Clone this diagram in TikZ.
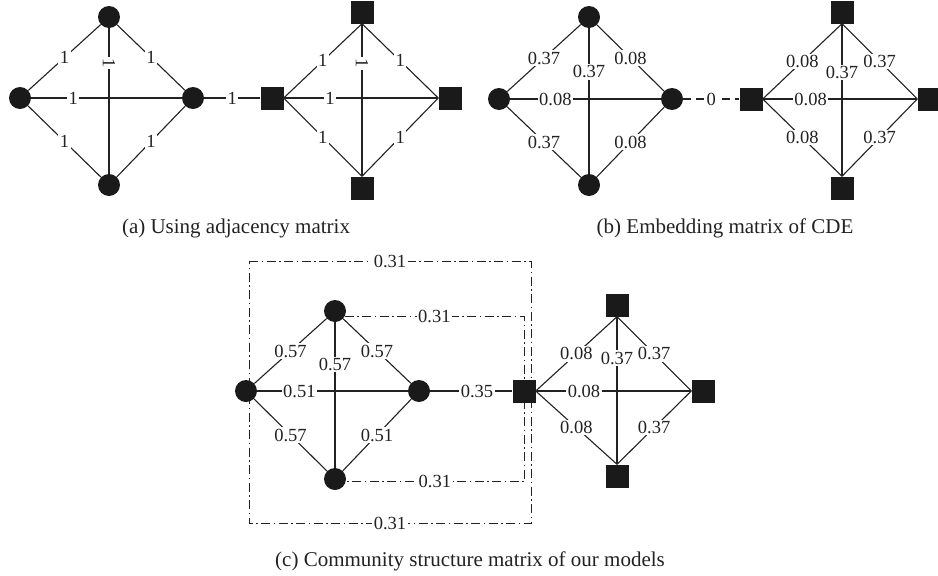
\documentclass[tikz,border=0pt]{standalone}
\usepackage{fontspec}
\setmainfont{Liberation Serif}
\usetikzlibrary{backgrounds}
\definecolor{nodefill}{HTML}{1A1A1A}
\definecolor{linec}{HTML}{222222}
\begin{document}
\begin{tikzpicture}[x=1pt,y=-1pt,
  cnode/.style={circle,fill=nodefill,draw=none,minimum size=22pt,inner sep=0pt},
  snode/.style={rectangle,fill=nodefill,draw=none,minimum size=23pt,inner sep=0pt},
  edge/.style={draw=linec,line width=1.1pt},
  lbl/.style={fill=white,inner sep=1.5pt,font=\fontsize{18.5}{18.5}\selectfont,text=linec},
  captext/.style={font=\fontsize{21}{21}\selectfont,anchor=base,text=linec},
  dd/.style={draw=linec,line width=1pt,dash pattern=on 9pt off 3.5pt on 1.5pt off 3.5pt},
  dsh/.style={draw=linec,line width=1.1pt,dash pattern=on 8pt off 5pt}]
\useasboundingbox (0,0) rectangle (938,576);

% ---------- (a) ----------
\node[cnode] (a1) at (109,17) {};
\node[cnode] (a2) at (20,98) {};
\node[cnode] (a3) at (193,98) {};
\node[cnode] (a4) at (109,185) {};
\node[snode] (s1) at (362,12) {};
\node[snode] (s2) at (272,98) {};
\node[snode] (s3) at (450,98) {};
\node[snode] (s4) at (362,188) {};

\draw[edge] (a2) -- node[lbl]{1} (a1);
\draw[edge] (a1) -- node[lbl]{1} (a3);
\draw[edge] (a2) -- node[lbl]{1} (a4);
\draw[edge] (a4) -- node[lbl]{1} (a3);
\draw[edge] (a2) -- node[lbl,pos=0.28]{1} (a3);
\draw[edge] (a1) -- node[lbl,pos=0.24,rotate=-90]{1} (a4);

\draw[edge] (s2.east) -- node[lbl]{1} (s1.south);
\draw[edge] (s1.south) -- node[lbl]{1} (s3.west);
\draw[edge] (s2.east) -- node[lbl]{1} (s4.north);
\draw[edge] (s4.north) -- node[lbl]{1} (s3.west);
\draw[edge] (s2.east) -- node[lbl,pos=0.3]{1} (s3.west);
\draw[edge] (s1.south) -- node[lbl,pos=0.26,rotate=-90]{1} (s4.north);

\draw[edge] (a3) -- node[lbl]{1} (s2);
\node[captext] (capa) at (236,233) {(a) Using adjacency matrix};

% ---------- (b) ----------
\node[cnode] (b1) at (589,17) {};
\node[cnode] (b2) at (499,99) {};
\node[cnode] (b3) at (672,99) {};
\node[cnode] (b4) at (589,185) {};
\node[snode] (t1) at (842,12) {};
\node[snode] (t2) at (751,99) {};
\node[snode] (t3) at (929,99) {};
\node[snode] (t4) at (842,188) {};

\draw[edge] (b2) -- node[lbl]{0.37} (b1);
\draw[edge] (b1) -- node[lbl]{0.08} (b3);
\draw[edge] (b2) -- node[lbl]{0.37} (b4);
\draw[edge] (b4) -- node[lbl]{0.08} (b3);
\draw[edge] (b2) -- node[lbl,pos=0.3]{0.08} (b3);
\draw[edge] (b1) -- node[lbl,pos=0.3]{0.37} (b4);

\draw[edge] (t2.east) -- node[lbl]{0.08} (t1.south);
\draw[edge] (t1.south) -- node[lbl]{0.37} (t3.west);
\draw[edge] (t2.east) -- node[lbl]{0.08} (t4.north);
\draw[edge] (t4.north) -- node[lbl]{0.37} (t3.west);
\draw[edge] (t2.east) -- node[lbl,pos=0.31]{0.08} (t3.west);
\draw[edge] (t1.south) -- node[lbl,pos=0.32]{0.37} (t4.north);

\draw[dsh] (b3) -- node[lbl]{0} (t2);
\node[captext] (capb) at (725,233) {(b) Embedding matrix of CDE};

% ---------- (c) ----------
\coordinate (o1) at (249,261);
\coordinate (o3) at (531,523);
\node[cnode] (c1) at (335,311) {};
\node[cnode] (c2) at (246,391) {};
\node[cnode] (c3) at (419,391) {};
\node[cnode] (c4) at (335,479) {};
\node[snode] (u1) at (617,305) {};
\node[snode] (u2) at (524,391) {};
\node[snode] (u3) at (703,391) {};
\node[snode] (u4) at (617,476) {};

\begin{scope}[on background layer]
\fill[white] (0,0) rectangle (938,576);
\draw[dd] (o1) -- node[lbl]{0.31} (o1 -| o3) -- (o3) -- node[lbl]{0.31} (o1 |- o3) -- cycle;
\draw[dd] (c1.-30) -- node[lbl]{0.31} (c1.-30 -| u2) -- (c4.-15 -| u2) -- node[lbl]{0.31} (c4.-15);
\end{scope}

\draw[edge] (c2) -- node[lbl]{0.57} (c1);
\draw[edge] (c1) -- node[lbl]{0.57} (c3);
\draw[edge] (c2) -- node[lbl]{0.57} (c4);
\draw[edge] (c4) -- node[lbl]{0.51} (c3);
\draw[edge] (c2) -- node[lbl,pos=0.28]{0.51} (c3);
\draw[edge] (c1) -- node[lbl,pos=0.29]{0.57} (c4);

\draw[edge] (u2.east) -- node[lbl]{0.08} (u1.south);
\draw[edge] (u1.south) -- node[lbl]{0.37} (u3.west);
\draw[edge] (u2.east) -- node[lbl]{0.08} (u4.north);
\draw[edge] (u4.north) -- node[lbl]{0.37} (u3.west);
\draw[edge] (u2.east) -- node[lbl,pos=0.31]{0.08} (u3.west);
\draw[edge] (u1.south) -- node[lbl,pos=0.28]{0.37} (u4.north);

\draw[edge] (c3) -- node[lbl,pos=0.57]{0.35} (u2);
\node[captext] (capc) at (470,566) {(c) Community structure matrix of our models};
\end{tikzpicture}
\end{document}
